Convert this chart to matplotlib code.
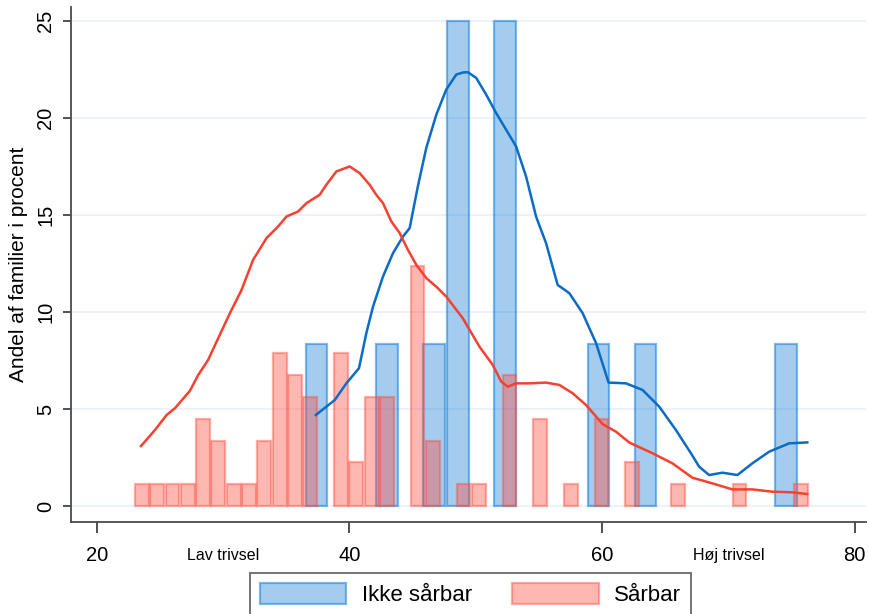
import matplotlib
matplotlib.use("Agg")
import matplotlib.pyplot as plt
from matplotlib.patches import Patch

plt.rcParams['font.family'] = ['Liberation Sans', 'DejaVu Sans']

# ---------------- data ----------------
# Histogram: Ikke sårbar (percent of families), bin centers and heights
blue_bin_width = 1.857
blue_centers = [37.39, 43.0, 46.72, 48.58, 52.29, 59.72, 63.44, 74.58]
blue_heights = [8.33, 8.33, 8.33, 25.0, 25.0, 8.33, 8.33, 8.33]

# Histogram: Sårbar
red_bin_width = 1.2133
red_centers = [23.56, 24.77, 25.99, 27.20, 28.41, 29.63, 30.84, 32.05, 33.27,
               34.48, 35.69, 36.91, 39.33, 40.55, 41.76, 42.97, 45.40, 46.61,
               49.04, 50.25, 52.68, 55.11, 57.54, 59.96, 62.39, 66.03, 70.88, 75.73]
red_heights = [1.12, 1.12, 1.12, 1.12, 4.49, 3.37, 1.12, 1.12, 3.37,
               7.87, 6.74, 5.62, 7.87, 2.25, 5.62, 5.62, 12.36, 3.37,
               1.12, 1.12, 6.74, 4.49, 1.12, 4.49, 2.25, 1.12, 1.12, 1.12]

# Density curves (scaled to percent)
blue_curve_x = [37.34, 38.84, 39.76, 40.76, 41.34, 41.87, 42.66, 43.45, 44.24, 44.77,
                45.42, 46.09, 46.88, 47.67, 48.46, 49.0, 49.38, 50.04, 50.83, 51.62,
                52.41, 53.20, 53.99, 54.78, 55.57, 56.49, 57.42, 58.47, 59.53, 60.52,
                61.90, 63.21, 64.53, 65.85, 67.04, 67.69, 68.48, 69.53, 70.72, 71.90,
                73.23, 74.81, 76.25]
blue_curve_y = [4.69, 5.46, 6.32, 7.10, 8.90, 10.27, 11.82, 13.02, 13.88, 14.31,
                16.46, 18.45, 20.15, 21.45, 22.22, 22.33, 22.34, 22.05, 21.19, 20.24,
                19.38, 18.52, 16.97, 14.91, 13.54, 11.39, 10.96, 9.93, 8.39, 6.36,
                6.32, 5.98, 5.12, 3.92, 2.72, 2.03, 1.60, 1.72, 1.60, 2.20,
                2.80, 3.23, 3.28]

red_curve_x = [23.50, 24.61, 25.53, 26.19, 27.38, 28.03, 28.82, 29.49, 30.54, 31.46,
               32.38, 33.44, 34.36, 35.02, 35.94, 36.60, 37.65, 38.18, 38.97, 40.02,
               40.81, 41.60, 42.13, 42.66, 43.32, 43.98, 44.63, 45.30, 46.09, 46.88,
               47.67, 48.98, 50.30, 51.35, 52.02, 52.54, 53.20, 54.25, 55.57, 56.62,
               57.68, 58.73, 60.05, 61.11, 62.17, 64.00, 65.58, 67.16, 68.74, 70.32,
               71.90, 73.49, 75.07, 76.25]
red_curve_y = [3.09, 3.92, 4.69, 5.04, 5.94, 6.75, 7.53, 8.47, 9.93, 11.13,
               12.68, 13.80, 14.40, 14.91, 15.17, 15.60, 16.03, 16.55, 17.23, 17.49,
               17.15, 16.55, 16.03, 15.60, 14.66, 14.06, 13.20, 12.42, 11.74, 11.30,
               10.79, 9.67, 8.21, 7.27, 6.41, 6.15, 6.32, 6.32, 6.36, 6.24,
               5.81, 5.21, 4.22, 3.83, 3.27, 2.72, 2.20, 1.46, 1.17, 0.86,
               0.86, 0.74, 0.71, 0.62]

labels = ["Ikke sårbar", "Sårbar"]
y_ticks = [0, 5, 10, 15, 20, 25]
x_ticks = [20, 40, 60, 80]
x_extra_ticks = [30, 70]
x_extra_labels = ["Lav trivsel", "Høj trivsel"]
y_label = "Andel af familier i procent"

# ---------------- styles ----------------
blue_base = (0.10, 0.50, 0.85)
red_base = (1.00, 0.30, 0.25)
blue_fill = blue_base + (0.40,)
blue_edge = blue_base + (0.55,)
red_fill = red_base + (0.40,)
red_edge = red_base + (0.45,)
blue_line = "#0a6cc4"
red_line = "#f5412f"

fig = plt.figure(figsize=(8.7, 6.14), dpi=100)
ax = fig.add_axes([0.0813, 0.1498, 0.9954 - 0.0813, 0.9886 - 0.1498])

for y in y_ticks:
    ax.axhline(y, color="#eaeff7", lw=1.2, zorder=0)

ax.bar(blue_centers, blue_heights, width=blue_bin_width * 0.93,
       facecolor=blue_fill, edgecolor=blue_edge, linewidth=1.6, zorder=2)
ax.bar(red_centers, red_heights, width=red_bin_width * 0.90,
       facecolor=red_fill, edgecolor=red_edge, linewidth=1.6, zorder=3)
ax.plot(blue_curve_x, blue_curve_y, color=blue_line, lw=1.8, zorder=4)
ax.plot(red_curve_x, red_curve_y, color=red_line, lw=1.8, zorder=4)

ax.set_xlim(17.94, 80.9)
ax.set_ylim(-0.82, 25.7)

for s in ["top", "right"]:
    ax.spines[s].set_visible(False)
for s in ["left", "bottom"]:
    ax.spines[s].set_color("#4a4a4a")
    ax.spines[s].set_linewidth(1.3)

ax.set_yticks(y_ticks)
ax.set_yticklabels([str(v) for v in y_ticks], rotation=90, va="center", fontsize=14.5)
ax.set_xticks(x_ticks)
ax.set_xticklabels([str(v) for v in x_ticks], fontsize=14.5)
ax.set_xticks(x_extra_ticks, minor=True)
ax.set_xticklabels(x_extra_labels, minor=True, fontsize=11.5)
ax.tick_params(axis="x", which="major", length=8, width=1.2, color="#333333", pad=9)
ax.tick_params(axis="x", which="minor", length=0, pad=19)
ax.tick_params(axis="y", length=6, width=1.2, color="#333333", pad=5)
ax.set_ylabel(y_label, fontsize=15, labelpad=6)

handles = [Patch(facecolor=blue_fill, edgecolor=blue_edge, linewidth=1.6),
           Patch(facecolor=red_fill, edgecolor=red_edge, linewidth=1.6)]
leg = fig.legend(handles, labels, loc="upper center",
                 bbox_to_anchor=(470.5 / 870, 1 - 573 / 614), ncol=2,
                 fontsize=16, frameon=True, fancybox=False, edgecolor="#444444",
                 handlelength=3.9, handleheight=1.05, handletextpad=0.7,
                 columnspacing=1.8, borderpad=0.45, borderaxespad=0)
leg.get_frame().set_linewidth(1.3)

fig.savefig("out.png", dpi=100)
